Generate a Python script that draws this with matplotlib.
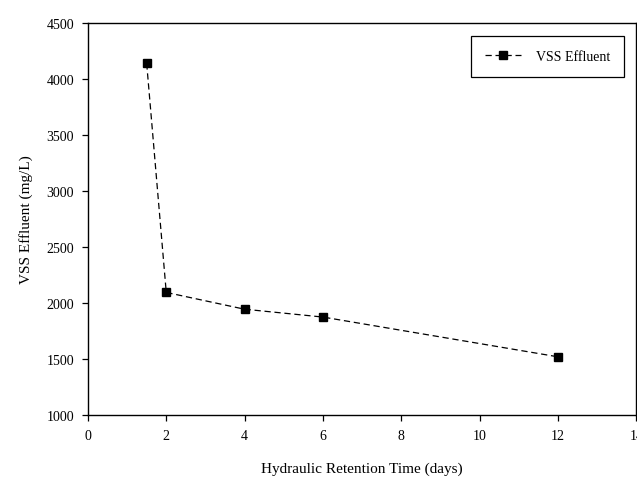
import matplotlib
matplotlib.use("Agg")
import matplotlib.pyplot as plt

# Hydraulic retention time (days) and VSS effluent (mg/L)
hrt = [1.5, 2, 4, 6, 12]
vss = [4140, 2095, 1945, 1875, 1520]

x_ticks = [0, 2, 4, 6, 8, 10, 12, 14]
y_ticks = [1000, 1500, 2000, 2500, 3000, 3500, 4000, 4500]

plt.rcParams["font.family"] = ["Liberation Serif", "DejaVu Serif"]

fig = plt.figure(figsize=(6.37, 4.81), dpi=100)
ax = fig.add_axes([0.138, 0.135, 0.861, 0.815])

ax.plot(hrt, vss, color="black", linestyle=(0, (5, 3)), linewidth=0.9,
        marker="s", markersize=6, markerfacecolor="black",
        markeredgecolor="black", label="VSS Effluent")

ax.set_xlim(0, 14)
ax.set_ylim(1000, 4500)
ax.set_xticks(x_ticks)
ax.set_yticks(y_ticks)
ax.tick_params(direction="out", length=4, width=0.9, labelsize=10, pad=6)
for s in ax.spines.values():
    s.set_linewidth(1.0)

ax.set_xlabel("Hydraulic Retention Time (days)", fontsize=11, labelpad=14)
ax.set_ylabel("VSS Effluent (mg/L)", fontsize=11, labelpad=10)

leg = ax.legend(loc="upper right", bbox_to_anchor=(0.978, 0.967), fontsize=10,
                fancybox=False, framealpha=1, edgecolor="black",
                handlelength=2.6, borderpad=1.0, handletextpad=1.1,
                borderaxespad=0)
leg.get_frame().set_linewidth(0.9)

fig.savefig("out.png", dpi=100)
